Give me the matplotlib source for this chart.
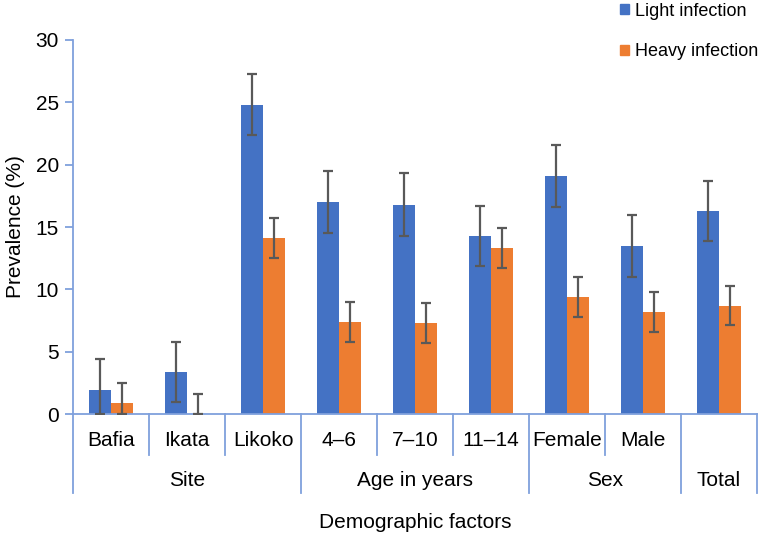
import numpy as np
import matplotlib.pyplot as plt
from matplotlib.patches import Patch

plt.rcParams['font.family'] = ['Liberation Sans', 'DejaVu Sans']

categories = ['Bafia', 'Ikata', 'Likoko', '4–6', '7–10', '11–14', 'Female', 'Male', '']
groups = ['Site', 'Age in years', 'Sex', 'Total']
group_sizes = [3, 3, 2, 1]

light = [1.9, 3.4, 24.8, 17.0, 16.8, 14.3, 19.1, 13.5, 16.3]
light_err = [2.5, 2.4, 2.45, 2.5, 2.5, 2.4, 2.5, 2.5, 2.4]
heavy = [0.9, 0.0, 14.1, 7.4, 7.3, 13.3, 9.4, 8.2, 8.7]
heavy_err = [1.6, 1.6, 1.6, 1.6, 1.6, 1.6, 1.6, 1.6, 1.6]

blue = '#4472C4'
orange = '#ED7D31'
axis_col = '#7FA0DC'
err_col = '#595959'

fig = plt.figure(figsize=(7.58, 5.34), dpi=100)
ax = fig.add_axes([0.0963, 0.2247, 0.9024, 0.7004])

x = np.arange(len(categories))
w = 0.29


def clip_err(vals, errs):
    lo = [min(e, v) for v, e in zip(vals, errs)]
    return [lo, errs]


ax.bar(x - w / 2, light, w, color=blue, zorder=2)
ax.bar(x + w / 2, heavy, w, color=orange, zorder=2)
ax.errorbar(x - w / 2, light, yerr=clip_err(light, light_err), fmt='none',
            ecolor=err_col, elinewidth=1.6, capsize=3.5, capthick=1.6, zorder=3)
ax.errorbar(x + w / 2, heavy, yerr=clip_err(heavy, heavy_err), fmt='none',
            ecolor=err_col, elinewidth=1.6, capsize=3.5, capthick=1.6, zorder=3)

ax.set_xlim(-0.5, len(categories) - 0.5)
ax.set_ylim(0, 30)
ax.set_yticks(range(0, 31, 5))
ax.tick_params(axis='y', labelsize=15, colors=axis_col, labelcolor='black',
               length=6, width=1.3, direction='out', pad=4)
ax.set_xticks([])
for s in ['top', 'right']:
    ax.spines[s].set_visible(False)
for s in ['left', 'bottom']:
    ax.spines[s].set_color(axis_col)
    ax.spines[s].set_linewidth(1.3)

ax.set_ylabel('Prevalence (%)', fontsize=15, labelpad=8)

tr = ax.get_xaxis_transform()

# group labels and long separators
start = -0.5
edges = [start]
for g, n in zip(groups, group_sizes):
    ax.text(start + n / 2, -0.177, g, transform=tr, ha='center', va='center', fontsize=15)
    start += n
    edges.append(start)
for b in edges:
    ax.plot([b, b], [0, -0.212], transform=tr, color=axis_col, lw=1.3, clip_on=False)

# category labels and short separators inside groups
for i, c in enumerate(categories):
    ax.text(i, -0.072, c, transform=tr, ha='center', va='center', fontsize=15)
for b in np.arange(0.5, len(categories) - 0.5):
    if b not in edges:
        ax.plot([b, b], [0, -0.11], transform=tr, color=axis_col, lw=1.3, clip_on=False)

ax.text(0.5, -0.29, 'Demographic factors', transform=ax.transAxes,
        ha='center', va='center', fontsize=15)

handles = [Patch(color=blue, label='Light infection'),
           Patch(color=orange, label='Heavy infection')]
fig.legend(handles=handles, loc='upper left', bbox_to_anchor=(0.806, 1.012),
           frameon=False, fontsize=13, handlelength=0.5, handleheight=0.5,
           handletextpad=0.35, labelspacing=1.3, borderpad=0.0)

fig.savefig('out.png', dpi=100)
